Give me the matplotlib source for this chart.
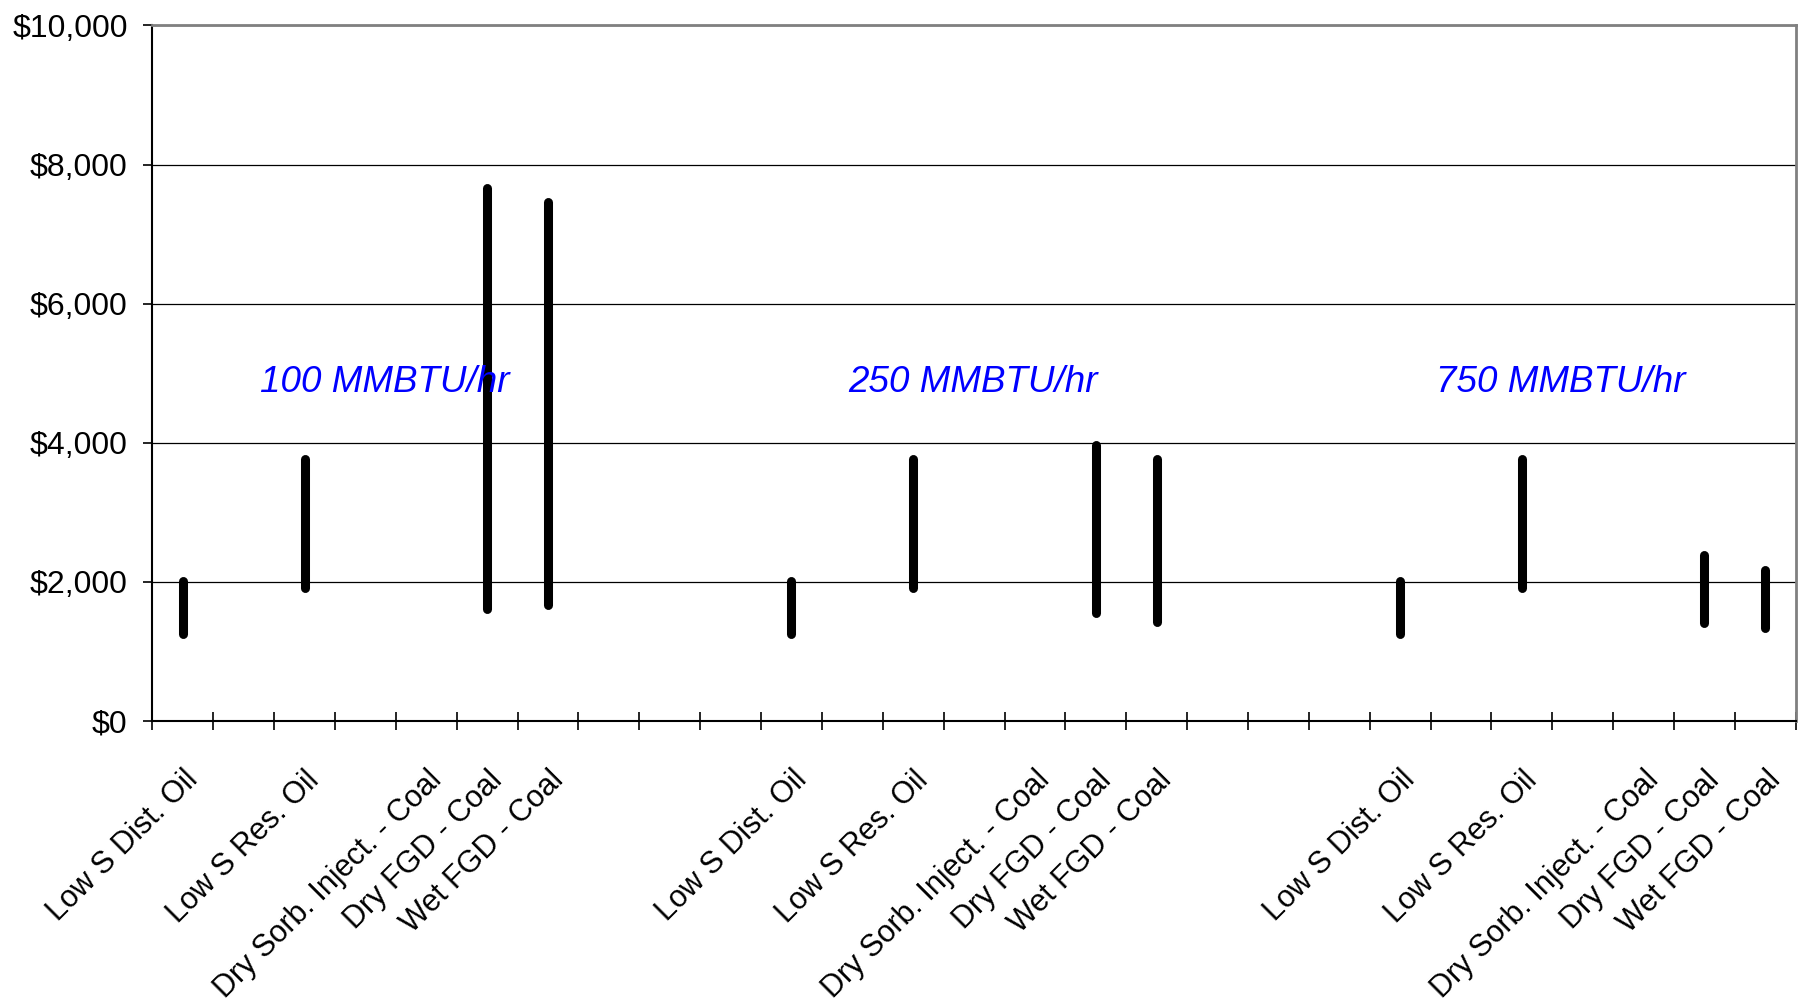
import numpy as np
import matplotlib
matplotlib.use("Agg")
import matplotlib.pyplot as plt
from matplotlib.ticker import FuncFormatter, MultipleLocator

plt.rcParams['font.family'] = ['Liberation Sans', 'DejaVu Sans']

nan = np.nan

# category labels along the x axis (blank slots keep the spacing)
categories = [
    "Low S Dist. Oil", "", "Low S Res. Oil", "", "Dry Sorb. Inject. - Coal",
    "Dry FGD - Coal", "Wet FGD - Coal", "", "", "",
    "Low S Dist. Oil", "", "Low S Res. Oil", "", "Dry Sorb. Inject. - Coal",
    "Dry FGD - Coal", "Wet FGD - Coal", "", "", "",
    "Low S Dist. Oil", "", "Low S Res. Oil", "", "Dry Sorb. Inject. - Coal",
    "Dry FGD - Coal", "Wet FGD - Coal",
]

# cost range per category, $
low = [1250, nan, 1910, nan, nan, 1610, 1670, nan, nan, nan,
       1250, nan, 1910, nan, nan, 1550, 1420, nan, nan, nan,
       1250, nan, 1910, nan, nan, 1400, 1330]
high = [2010, nan, 3760, nan, nan, 7660, 7460, nan, nan, nan,
        2010, nan, 3760, nan, nan, 3960, 3760, nan, nan, nan,
        2010, nan, 3760, nan, nan, 2380, 2170]

group_labels = ["100 MMBTU/hr", "250 MMBTU/hr", "750 MMBTU/hr"]
group_label_x = [3.32, 12.98, 22.64]
group_label_y = 4870

fig = plt.figure(figsize=(18.03, 10.07), dpi=100)
ax = fig.add_axes([0.0845, 0.2844, 0.9115, 0.6903])

x = np.arange(len(categories))
for xi, lo, hi in zip(x, low, high):
    if np.isnan(lo):
        continue
    ax.plot([xi, xi], [lo, hi], color='black', lw=6.5, solid_capstyle='round', zorder=3)

for lab, gx in zip(group_labels, group_label_x):
    ax.text(gx, group_label_y, lab, color='#0000FF', fontsize=26.5, style='italic',
            ha='center', va='center', zorder=4)

ax.set_xlim(-0.5, len(categories) - 0.5)
ax.set_ylim(0, 10000)

ax.yaxis.set_major_locator(MultipleLocator(2000))
ax.yaxis.set_major_formatter(FuncFormatter(lambda v, p: "${:,.0f}".format(v)))
ax.grid(axis='y', color='black', lw=0.9)
ax.set_axisbelow(True)

# category ticks sit between categories, labels sit under the centres
ax.set_xticks(np.arange(len(categories) + 1) - 0.5)
ax.set_xticklabels([])
ax.set_xticks(x, minor=True)
ax.set_xticklabels(categories, minor=True, rotation=45, ha='right', va='top',
                   rotation_mode='anchor', fontsize=22)
ax.tick_params(axis='x', which='major', direction='inout', length=13, width=1.2)
ax.tick_params(axis='x', which='minor', length=0, pad=32)
ax.tick_params(axis='y', direction='out', length=6.3, width=1.2, labelsize=23, pad=11.5)

for s in ['left', 'bottom']:
    ax.spines[s].set_color('black')
    ax.spines[s].set_linewidth(1.5)
ax.spines['top'].set_color('#808080')
ax.spines['top'].set_linewidth(2)
ax.spines['right'].set_color('#808080')
ax.spines['right'].set_linewidth(2)

fig.savefig("out.png", dpi=100)
